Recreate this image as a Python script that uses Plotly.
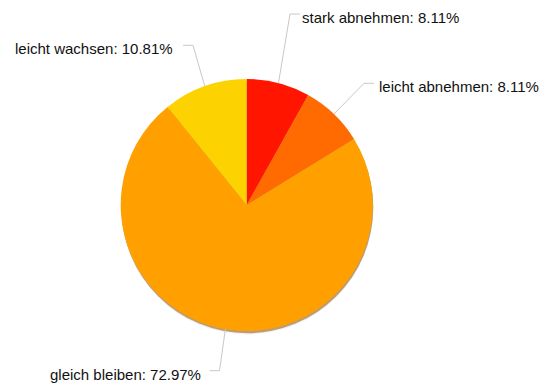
import math
import plotly.graph_objects as go

# Survey answers and their shares (percent)
categories = ["stark abnehmen", "leicht abnehmen", "gleich bleiben", "leicht wachsen"]
shares = [8.11, 8.11, 72.97, 10.81]
colors = ["#ff1500", "#ff6b00", "#ffa000", "#fcd200"]

# ---- layout (pixels) ----
W, H = 546, 386
CX, CY, R = 246.7, 205.0, 126.0
# leader-line elbow positions and label side for each slice
elbow_x = [290.0, 364.0, 219.5, 193.0]
elbow_y = [14.0, 83.3, 370.7, 45.3]
side = [1, 1, -1, -1]
SEG = 10.0          # horizontal part of the connector
TEXT_GAP = [0.0, 3.0, 7.0, 8.0]
FONT = "Liberation Sans, Arial, Helvetica, sans-serif"


def px(x):
    return x / W


def py(y):
    return 1 - y / H


def domain(dx=0.0, dy=0.0):
    return dict(x=[px(CX - R + dx), px(CX + R + dx)],
                y=[py(CY + R + dy), py(CY - R + dy)])


fig = go.Figure()

# soft drop shadow under the pie
total = sum(shares)
for dy, col in [(3.5, "rgba(0,0,0,0.05)"), (2.2, "rgba(150,85,0,0.55)")]:
    fig.add_trace(go.Pie(values=[total], labels=[""], domain=domain(0.6, dy),
                         marker=dict(colors=[col], line=dict(width=0)),
                         textinfo="none", hoverinfo="skip", sort=False,
                         showlegend=False))

fig.add_trace(go.Pie(
    labels=categories, values=shares, sort=False, direction="clockwise",
    rotation=0, domain=domain(),
    marker=dict(colors=colors, line=dict(width=0)),
    textinfo="none", hovertemplate="%{label}: %{value:.2f}%<extra></extra>",
    showlegend=False,
))

# connectors and labels, starting on the rim at each slice's mid angle
shapes, annotations = [], []
cum = 0.0
for i, (name, v) in enumerate(zip(categories, shares)):
    mid = (cum + v / 2) / total * 2 * math.pi
    cum += v
    rx = CX + R * math.sin(mid)
    ry = CY - R * math.cos(mid)
    ex, ey = elbow_x[i], elbow_y[i]
    hx = ex + side[i] * SEG
    shapes.append(dict(
        type="path", xref="paper", yref="paper",
        path=f"M {px(rx)} {py(ry)} L {px(ex)} {py(ey)} L {px(hx)} {py(ey)}",
        line=dict(color="#c8c8c8", width=1)))
    annotations.append(dict(
        x=px(hx + side[i] * TEXT_GAP[i]), y=py(ey + 3.5),
        xref="paper", yref="paper", showarrow=False,
        xanchor="left" if side[i] > 0 else "right", yanchor="middle",
        text=f"{name}: {v:.2f}%",
        font=dict(family=FONT, size=15, color="#111111")))

fig.update_layout(
    width=W, height=H, margin=dict(l=0, r=0, t=0, b=0),
    paper_bgcolor="white", plot_bgcolor="white",
    shapes=shapes, annotations=annotations,
)

fig.write_html("out.html")
